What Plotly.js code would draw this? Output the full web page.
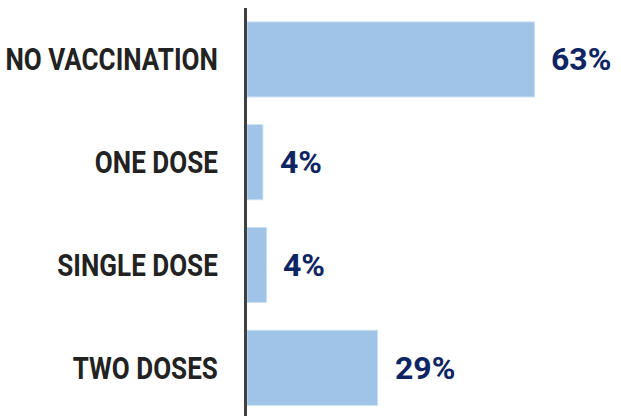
<!DOCTYPE html>
<html>
<head>
<meta charset="utf-8">
<script src="https://cdn.plot.ly/plotly-3.0.1.min.js"></script>
<style>
html,body{margin:0;padding:0;background:#fff;}
#chart{width:621px;height:416px;}
</style>
</head>
<body>
<div id="chart"></div>
<script>
const categories = ["NO VACCINATION", "ONE DOSE", "SINGLE DOSE", "TWO DOSES"];
const values = [63.4, 3.5, 4.3, 28.8];
const valueLabels = ["63%", "4%", "4%", "29%"];

const trace = {
  type: 'bar',
  orientation: 'h',
  x: values,
  y: categories,
  marker: {color: '#9fc4e7', line: {color: '#c8def2', width: 1}},
  hoverinfo: 'skip'
};

const annotations = values.map((v, i) => ({
  x: v, y: categories[i], xref: 'x', yref: 'y',
  text: valueLabels[i], showarrow: false,
  xanchor: 'left', yanchor: 'middle', xshift: 15,
  font: {family: 'Roboto, "Liberation Sans", sans-serif', size: 32, color: '#0d2562', weight: 700}
}));

const layout = {
  width: 621, height: 416,
  margin: {l: 247, r: 0, t: 8, b: 0, pad: 0},
  paper_bgcolor: '#ffffff', plot_bgcolor: '#ffffff',
  bargap: 0.27,
  showlegend: false,
  xaxis: {range: [0, 82.5], visible: false, showgrid: false, zeroline: false, fixedrange: true},
  yaxis: {
    type: 'category', categoryorder: 'array', categoryarray: categories,
    range: [3.469, -0.5],
    showline: true, linecolor: '#404040', linewidth: 3,
    ticks: '', showgrid: false, zeroline: false,
    ticklabelstandoff: 20,
    tickfont: {family: 'Roboto, "Liberation Sans", sans-serif', size: 31, color: '#222222', weight: 700}
  },
  annotations: annotations
};

Plotly.newPlot('chart', [trace], layout, {displayModeBar: false, staticPlot: true}).then(function (gd) {
  // condense the category labels horizontally around their right edge
  gd.querySelectorAll('.ytick text').forEach(function (t) {
    const x = parseFloat(t.getAttribute('x')) || 0;
    const y = parseFloat(t.getAttribute('y')) || 0;
    const base = t.getAttribute('transform') || '';
    t.setAttribute('transform', base + ' translate(' + x + ',' + y + ') scale(0.84,1) translate(' + (-x) + ',' + (-y) + ')');
  });
});
</script>
</body>
</html>
